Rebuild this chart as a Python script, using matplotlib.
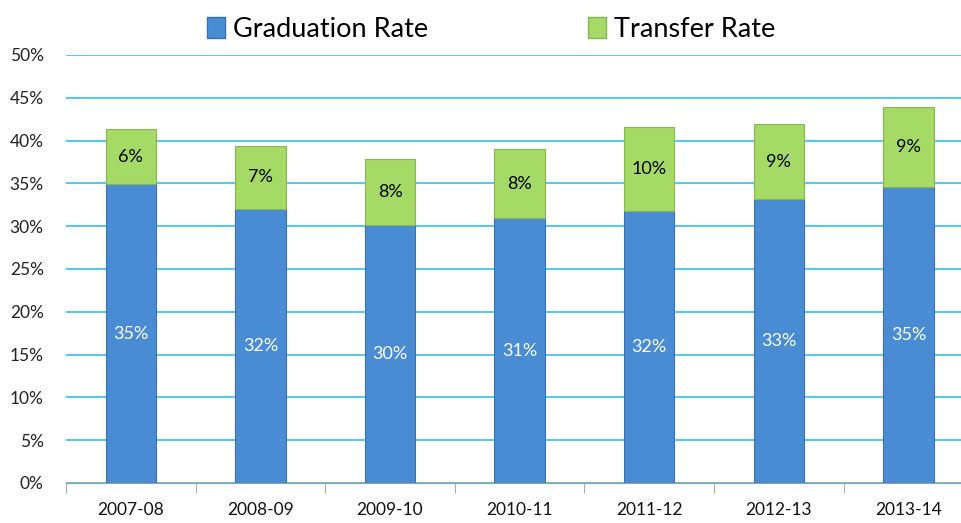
import matplotlib
matplotlib.use("Agg")
import matplotlib.pyplot as plt
from matplotlib.patches import Patch
import numpy as np

plt.rcParams['font.family'] = ['Lato', 'DejaVu Sans']

# data (percent)
years = ["2007-08", "2008-09", "2009-10", "2010-11", "2011-12", "2012-13", "2013-14"]
graduation = [34.9, 32.0, 30.1, 30.9, 31.8, 33.2, 34.6]
transfer = [6.4, 7.4, 7.8, 8.1, 9.8, 8.7, 9.3]
grad_labels = ["35%", "32%", "30%", "31%", "32%", "33%", "35%"]
transfer_labels = ["6%", "7%", "8%", "8%", "10%", "9%", "9%"]

blue = "#4A8CD4"
green = "#A6DA66"
grid_col = "#35C2EA"

fig = plt.figure(figsize=(9.61, 5.23), dpi=100)
ax = fig.add_axes([0.0687, 0.0765, 0.944, 0.8185])

x = np.arange(len(years))
w = 0.39
b1 = ax.bar(x, graduation, w, color=blue, edgecolor="#3A70AE", linewidth=0.8, zorder=3)
b2 = ax.bar(x, transfer, w, bottom=graduation, color=green, edgecolor="#86B552", linewidth=0.8, zorder=3)

for i in range(len(years)):
    ax.text(x[i], graduation[i] / 2, grad_labels[i], ha="center", va="center",
            color="white", fontsize=13, zorder=4)
    ax.text(x[i], graduation[i] + transfer[i] / 2, transfer_labels[i], ha="center", va="center",
            color="black", fontsize=13, zorder=4)

ax.set_xlim(-0.5, len(years) - 0.5)
ax.set_ylim(0, 50)
ax.set_yticks(np.arange(0, 51, 5))
ax.set_yticklabels(["%d%%" % v for v in range(0, 51, 5)], fontsize=12.5, color="#222222")
ax.yaxis.grid(True, color=grid_col, linewidth=1.2, zorder=0)
ax.tick_params(axis="y", length=0, pad=16)

ax.set_xticks(x)
ax.set_xticklabels(years, fontsize=12.5, color="#111111")
ax.set_xticks(np.arange(-0.5, len(years), 1), minor=True)
ax.tick_params(axis="x", which="major", length=0, pad=14)
ax.tick_params(axis="x", which="minor", length=7, color="#9A9A9A", direction="out")

for s in ["top", "right", "left"]:
    ax.spines[s].set_visible(False)
ax.spines["bottom"].set_color("#9A9A9A")

handles = [Patch(facecolor=blue, edgecolor="#3A70AE"), Patch(facecolor=green, edgecolor="#86B552")]
fig.legend(handles, ["Graduation Rate", "Transfer Rate"], loc="upper center",
           bbox_to_anchor=(0.511, 1.015), ncol=2, frameon=False, fontsize=19.5,
           handlelength=0.65, handleheight=0.85, handletextpad=0.3, columnspacing=5.9)

fig.savefig("out.png", dpi=100)
